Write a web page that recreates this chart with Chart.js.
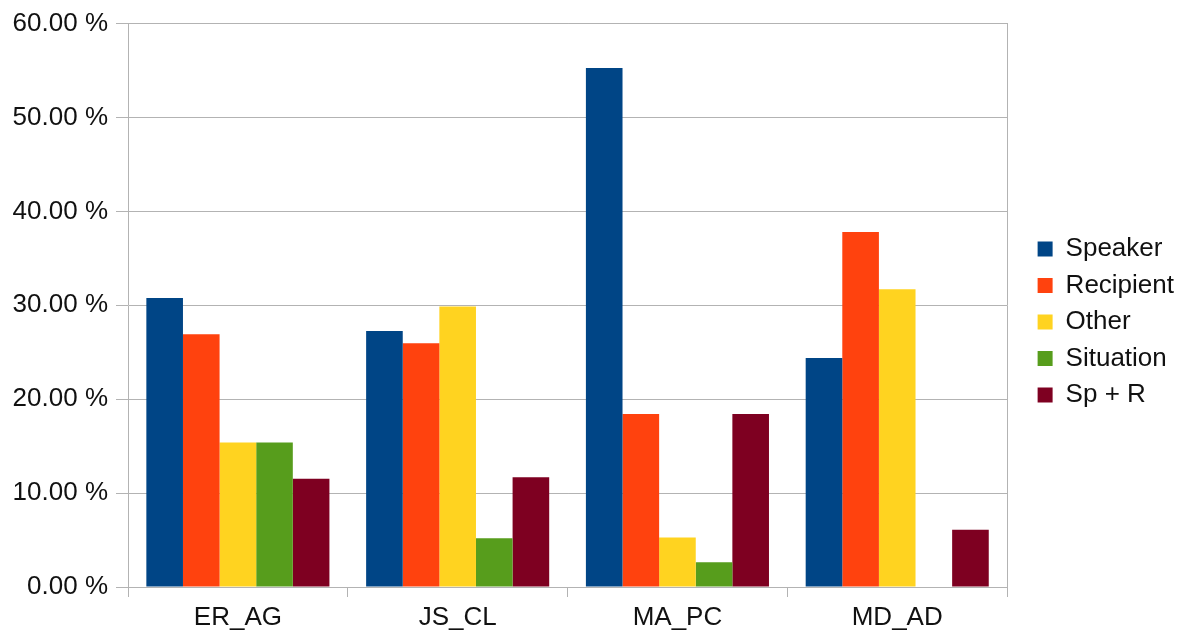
<!DOCTYPE html>
<html>
<head>
<meta charset="utf-8">
<script src="https://cdn.jsdelivr.net/npm/chart.js@4/dist/chart.umd.min.js"></script>
<style>
html,body{margin:0;padding:0;background:#fff;}
#wrap{width:1184px;height:632px;position:relative;}
</style>
</head>
<body>
<div id="wrap"><canvas id="c"></canvas></div>
<script>
const categories = ["ER_AG", "JS_CL", "MA_PC", "MD_AD"];
const seriesNames = ["Speaker", "Recipient", "Other", "Situation", "Sp + R"];
const speaker   = [30.77, 27.27, 55.26, 24.39];
const recipient = [26.92, 25.97, 18.42, 37.80];
const other     = [15.38, 29.87, 5.26, 31.71];
const situation = [15.38, 5.19, 2.63, 0];
const spr       = [11.54, 11.69, 18.42, 6.10];
const yTicks = [0, 10, 20, 30, 40, 50, 60];

const colors = ["#004586", "#ff420e", "#ffd320", "#579d1c", "#7e0021"];
const values = [speaker, recipient, other, situation, spr];
const gridCol = "#b3b3b3";
const FONT = "'Liberation Sans', Arial, sans-serif";
const FS = 26;

const legendShift = {
  id: 'legendShift',
  afterLayout(chart) {
    const l = chart.legend;
    if (l) { l.top -= 4; l.bottom -= 4; }
  }
};

const ctx = document.getElementById('c');
new Chart(ctx, {
  type: 'bar',
  data: {
    labels: categories,
    datasets: seriesNames.map((n, i) => ({
      label: n,
      data: values[i],
      backgroundColor: colors[i],
      borderWidth: 0,
      categoryPercentage: 0.833,
      barPercentage: 1.0
    }))
  },
  plugins: [legendShift],
  options: {
    responsive: true,
    maintainAspectRatio: false,
    animation: false,
    devicePixelRatio: 1,
    layout: { padding: { top: 20, right: 0, bottom: 0, left: 0 } },
    plugins: {
      tooltip: { enabled: false },
      legend: {
        position: 'right',
        labels: {
          boxWidth: 15,
          boxHeight: 15,
          padding: 10.5,
          color: '#111',
          font: { family: FONT, size: FS }
        }
      }
    },
    scales: {
      x: {
        offset: true,
        grid: { display: true, drawOnChartArea: false, drawTicks: true, tickLength: 10, color: gridCol, offset: true },
        border: { display: true, color: gridCol, width: 1 },
        ticks: { color: '#111', font: { family: FONT, size: FS }, padding: 5, maxRotation: 0 },
        afterFit: s => { s.height = 45; }
      },
      y: {
        min: 0, max: 60,
        afterBuildTicks: s => { s.ticks = yTicks.map(v => ({ value: v })); },
        grid: { color: gridCol, tickLength: 12, drawTicks: true },
        border: { display: true, color: gridCol, width: 1 },
        ticks: { color: '#111', font: { family: FONT, size: FS }, padding: 8,
          callback: v => v.toFixed(2) + ' %' },
        afterFit: s => { s.width = 128; }
      },
      y2: {
        position: 'right',
        min: 0, max: 60,
        grid: { display: false },
        border: { display: true, color: gridCol, width: 1 },
        ticks: { display: false },
        afterFit: s => { s.width = 20; }
      }
    }
  }
});
</script>
</body>
</html>
